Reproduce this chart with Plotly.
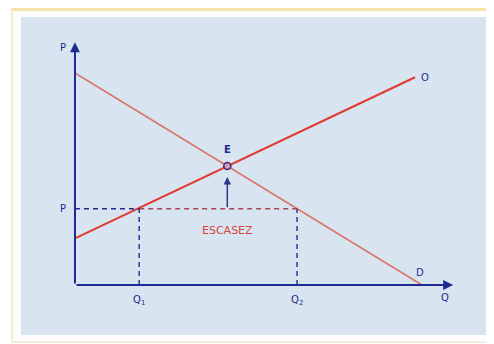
import plotly.graph_objects as go

# Supply / demand data (quantity, price)
demand_q = [0, 10]
demand_p = [10, 0]
supply_q = [0, 9.8]
supply_p = [2.2, 9.8]
price_ceiling = 3.6
q1 = 1.85
q2 = 6.4
eq_q = 4.39
eq_p = 5.61
axis_top = 11.45
axis_right = 10.9

navy = "#1d2a8f"
font = "DejaVu Sans"

# the page body adds an 8px offset, so everything is placed 8px up/left
OFF = 8
W, H = 494, 344


def px(xr):
    return (xr - OFF) / W


def py(yr):
    return 1 - (yr - OFF) / H


fig = go.Figure()

# demand (thin, salmon red)
fig.add_trace(go.Scatter(x=demand_q, y=demand_p, mode="lines",
                         line=dict(color="#d8786a", width=1.6), hoverinfo="skip"))
# supply (thicker, bright red)
fig.add_trace(go.Scatter(x=supply_q, y=supply_p, mode="lines",
                         line=dict(color="#e23b35", width=2.2), hoverinfo="skip"))

# price ceiling dashed lines
fig.add_trace(go.Scatter(x=[0, q1], y=[price_ceiling, price_ceiling], mode="lines",
                         line=dict(color=navy, width=1.4, dash="5px,4px"), hoverinfo="skip"))
fig.add_trace(go.Scatter(x=[q1, q2], y=[price_ceiling, price_ceiling], mode="lines",
                         line=dict(color="#a8485a", width=1.4, dash="5px,4px"), hoverinfo="skip"))
fig.add_trace(go.Scatter(x=[q1, q1], y=[0, price_ceiling], mode="lines",
                         line=dict(color=navy, width=1.4, dash="5px,4px"), hoverinfo="skip"))
fig.add_trace(go.Scatter(x=[q2, q2], y=[0, price_ceiling], mode="lines",
                         line=dict(color=navy, width=1.4, dash="5px,4px"), hoverinfo="skip"))

# equilibrium point
fig.add_trace(go.Scatter(x=[eq_q], y=[eq_p], mode="markers",
                         marker=dict(symbol="circle", size=7, color="#c9a0c0",
                                     line=dict(color="#4a2a6a", width=1.6)),
                         hoverinfo="skip"))

# axes with arrows
fig.add_annotation(x=0, y=axis_top, ax=0, ay=0, xref="x", yref="y", axref="x", ayref="y",
                   showarrow=True, arrowhead=2, arrowsize=1, arrowwidth=2, arrowcolor=navy, text="")
fig.add_annotation(x=axis_right, y=0, ax=0, ay=0, xref="x", yref="y", axref="x", ayref="y",
                   showarrow=True, arrowhead=2, arrowsize=1, arrowwidth=2, arrowcolor=navy, text="")
# shortage arrow
fig.add_annotation(x=eq_q, y=5.1, ax=eq_q, ay=price_ceiling, xref="x", yref="y", axref="x", ayref="y",
                   showarrow=True, arrowhead=2, arrowsize=1, arrowwidth=1.5, arrowcolor="#2a3a8a", text="")

labels = [
    (-0.35, 11.2, "P", navy),
    (-0.35, price_ceiling, "P", navy),
    (q1, -0.72, "Q<sub>1</sub>", navy),
    (q2, -0.72, "Q<sub>2</sub>", navy),
    (10.65, -0.58, "Q", navy),
    (10.1, 9.8, "O", navy),
    (9.95, 0.6, "D", navy),
    (eq_q, 6.4, "<b>E</b>", navy),
    (eq_q, 2.55, "ESCASEZ", "#d2473f"),
]
for x, y, t, c in labels:
    fig.add_annotation(x=x, y=y, text=t, showarrow=False,
                       font=dict(family=font, size=10 if t != "ESCASEZ" else 11, color=c))

# frame and panel background
fig.add_shape(type="rect", xref="paper", yref="paper", x0=px(12), x1=px(492), y0=py(342), y1=py(9),
              line=dict(color="#efe6cf", width=1.5), fillcolor="#fdfdfb", layer="below")
fig.add_shape(type="line", xref="paper", yref="paper", x0=px(12), x1=1, y0=py(9.5), y1=py(9.5),
              line=dict(color="#f6e3a8", width=3), layer="below")
fig.add_shape(type="rect", xref="paper", yref="paper", x0=px(21), x1=px(490), y0=py(335), y1=py(17),
              line=dict(width=0), fillcolor="#d8e5f1", layer="below")

fig.update_layout(
    width=W, height=H,
    margin=dict(l=0, r=0, t=0, b=0),
    paper_bgcolor="white", plot_bgcolor="white",
    showlegend=False,
    xaxis=dict(range=[-1.930, 12.306], visible=False, fixedrange=True),
    yaxis=dict(range=[-3.160, 13.066], visible=False, fixedrange=True),
)

fig.write_html("out.html")
